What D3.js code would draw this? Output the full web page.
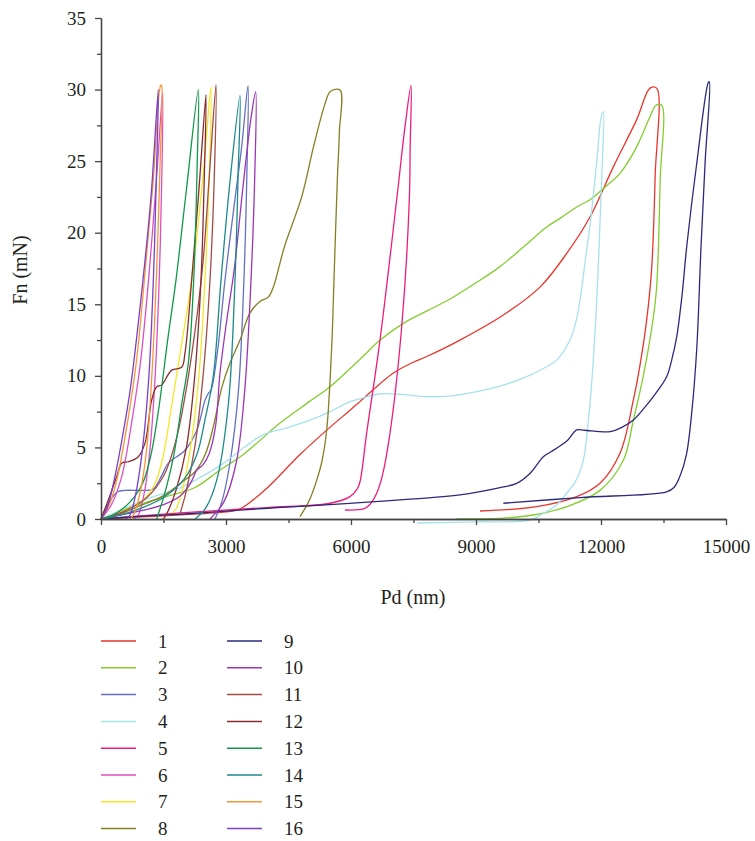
<!DOCTYPE html>
<html><head><meta charset="utf-8">
<script src="https://cdn.jsdelivr.net/npm/d3@7/dist/d3.min.js"></script>
<style>
body{margin:0;background:#fff;}
text{font-family:"Liberation Serif","DejaVu Serif",serif;fill:#231f20;}
</style>
</head><body><svg id="chart" width="755" height="841"></svg>
<script>
// ---- data (Pd in nm, Fn in mN) ----
const xTicks = [0, 3000, 6000, 9000, 12000, 15000];
const yTicks = [0, 5, 10, 15, 20, 25, 30, 35];
const seriesLabels = ["1","2","3","4","5","6","7","8","9","10","11","12","13","14","15","16"];
const seriesColors = ["#e8362c","#84cc2e","#6470c2","#a6e2ee","#ec1c7c","#db50c0","#f5e62a","#847f22",
                      "#2b2a7c","#9b36b5","#a14c46","#8a2c2c","#11994a","#1c8a8c","#f7953a","#7a40c8"];

const curve1 = [[0,0],[1000,0.15],[2000,0.3],[3000,0.5],[3300,0.65],[3500,1.0],[4000,2.2],[4776,4.5],[5336,6.0],[5976,7.6],[6216,8.2],[7016,10.2],[7496,10.95],[7816,11.35],[8616,12.5],[9656,14.25],[10536,16.2],[11176,18.55],[11736,21.1],[12296,24.6],[12856,27.9],[13176,30.1],[13336,30.1],
  [13300,24],[13216,17.5],[13100,14],[12950,11],[12776,8.3],[12456,4.6],[11976,2.5],[11416,1.56],[10456,0.86],[9096,0.56]];
const curve2 = [[0,0],[500,0.6],[1000,1.1],[1600,1.6],[2256,2.2],[2800,3.3],[3456,4.6],[4296,6.7],[5000,8.2],[5496,9.24],[6216,11.16],[6700,12.5],[7256,13.67],[7800,14.5],[8376,15.37],[9000,16.5],[9576,17.63],[10136,19.0],[10696,20.4],[11016,21.0],[11416,21.8],[11736,22.3],[12100,23.2],[12456,24.15],[12856,26.0],[13176,28.1],[13320,28.9],[13456,28.9],
  [13420,23.7],[13330,16],[13200,13],[13016,10],[12776,6.9],[12536,4.1],[11976,2.0],[11176,0.86],[10376,0.28],[9576,0.05],[8536,0]];
const curve3 = [[0,0],[200,1.2],[400,1.9],[576,2.0],[1000,2.0],[1256,2.1],[1450,3.0],[1616,3.9],[2016,4.8],[2300,6.2],[2496,8.3],[2580,8.8],[2640,9.0],[2800,11.8],[2976,16.7],[3200,22],[3376,26],[3528,30.27],
  [3500,24],[3430,16.7],[3300,9],[3100,4],[2900,1.2],[2736,0]];
const curve4 = [[0,0],[300,0.4],[648,0.86],[1200,1.5],[1840,2.1],[2256,2.7],[2896,3.8],[3456,5.05],[3896,5.9],[4500,6.4],[5016,6.9],[5500,7.5],[5976,8.2],[6216,8.4],[6696,8.75],[7200,8.7],[7736,8.55],[8400,8.6],[9016,8.9],[9600,9.3],[10216,9.94],[10600,10.5],[10936,11.1],[11256,12.5],[11400,13.8],[11496,15.3],[11656,18.8],[11736,20.5],[11900,25],[12000,28],[12056,28.45],
  [12020,24],[11940,18],[11816,11.1],[11700,7],[11576,4.1],[11400,2.7],[11176,1.8],[10900,0.9],[10616,0.4],[10296,-0.07],[9000,-0.2],[7584,-0.28]];
const curve5 = [[0,0],[2000,0.45],[4000,0.8],[5500,1.1],[5976,1.56],[6150,2.1],[6216,2.6],[6376,6],[6696,12.5],[7096,22.3],[7300,27.5],[7440,30.3],
  [7420,26],[7400,22.3],[7216,13.4],[6936,6],[6750,3],[6616,1.8],[6450,1.0],[6296,0.7],[5856,0.63]];
const curve6 = [[0,0],[250,1],[500,3],[750,7],[950,11],[1150,17],[1350,24.5],[1480,29.8],
  [1460,24],[1400,17],[1300,10],[1180,5],[1050,2],[900,0.3],[800,0]];
const curve7 = [[0,0],[500,0.5],[1000,1.3],[1300,2.5],[1500,4.5],[1700,8],[1950,12.5],[2176,16.7],[2450,24],[2640,30.2],
  [2600,24],[2496,16.7],[2350,10],[2150,5],[1950,2],[1800,0.7],[1700,0.4]];
const curve8 = [[0,0],[500,0.4],[1000,1.0],[1456,1.56],[2000,2.7],[2256,3.3],[2500,4.5],[2700,6.5],[2900,9.2],[3096,10.9],[3336,12.5],[3576,14.4],[3816,15.2],[4016,15.5],[4136,16.2],[4400,19],[4816,22.5],[5100,26],[5376,29.0],[5500,29.85],[5736,29.97],
  [5720,27],[5672,23.7],[5600,17.5],[5536,12],[5416,6.2],[5300,4],[5176,2.7],[5000,1.3],[4776,0.16]];
const curve9 = [[0,0],[1000,0.2],[2000,0.35],[3000,0.55],[4000,0.75],[5000,0.92],[6216,1.14],[7500,1.4],[8616,1.68],[9576,2.19],[9976,2.49],[10300,3.2],[10616,4.35],[10800,4.7],[11016,5.1],[11200,5.5],[11416,6.22],[11600,6.2],[12216,6.1],[12500,6.4],[12776,6.92],[13050,7.8],[13256,8.55],[13576,9.94],[13696,11.1],[13816,12.7],[13940,15.5],[14056,19.0],[14296,24.8],[14576,30.5],[14600,30.55],
  [14500,25],[14400,19],[14300,12],[14180,7.5],[14050,4.5],[13896,3.0],[13750,2.2],[13576,1.9],[11496,1.5],[9656,1.1]];
const curve10 = [[0,0],[500,0.3],[1000,0.6],[1500,1.0],[1900,1.6],[2150,2.5],[2296,3.4],[2450,3.8],[2600,4.6],[2750,6.5],[2856,10.2],[3000,13.5],[3200,17.5],[3400,23],[3600,28],[3712,29.83],
  [3690,24],[3600,16.7],[3450,9],[3250,4],[2950,1.2],[2616,0]];
const curve11 = [[0,0],[600,0.6],[1100,1.5],[1500,3],[1800,5.5],[2000,8.3],[2250,13],[2450,18],[2600,24],[2760,30.34],
  [2720,24],[2616,16.7],[2450,10],[2250,5],[2050,2],[1900,0.4]];
const curve12 = [[0,0],[176,1.33],[376,2.95],[496,3.9],[656,4.0],[896,4.35],[1056,5.3],[1216,8.3],[1336,9.24],[1456,9.36],[1696,10.4],[1936,10.6],[2016,11.6],[2176,16.7],[2350,23],[2520,29.64],
  [2480,24],[2400,16.7],[2250,10],[2050,5],[1800,2],[1600,0.5],[1496,0]];
const curve13 = [[0,0],[300,0.3],[700,1.2],[1000,2.5],[1200,4.5],[1400,8],[1600,12.5],[1800,16.7],[2050,23],[2336,30.0],
  [2310,25],[2225,16.7],[2100,11],[1952,8.3],[1750,4.5],[1550,2],[1336,0]];
const curve14 = [[0,0],[500,0.3],[1000,0.8],[1500,1.5],[2000,2.8],[2300,4.5],[2500,7],[2696,10],[2880,16.7],[3100,23.7],[3336,29.6],
  [3290,24],[3216,16.7],[3056,8],[2776,2.7],[2500,0.7],[2256,0]];
const curve15 = [[0,0],[200,1],[400,3],[650,7],[850,11],[1050,17],[1250,23.5],[1432,30.3],[1450,30.3],
  [1420,25],[1330,17],[1220,10],[1100,5],[950,2],[800,0.4],[700,0]];
const curve16 = [[0,0],[150,0.8],[300,2.5],[500,5.5],[700,9],[1000,16.5],[1200,22.5],[1375,30.0],
  [1330,24],[1260,17],[1150,10],[1000,5],[850,2],[700,0.3],[600,0]];

const curves = [curve1,curve2,curve3,curve4,curve5,curve6,curve7,curve8,curve9,curve10,curve11,curve12,curve13,curve14,curve15,curve16];

// ---- drawing ----
const FONT = '"Liberation Serif", "DejaVu Serif", serif';
const svg = d3.select("#chart");
const x = d3.scaleLinear().domain([0, 15000]).range([101, 726]);
const y = d3.scaleLinear().domain([0, 35]).range([519, 18]);
const axisColor = "#444";

const line = d3.line().x(d => x(d[0])).y(d => y(d[1])).curve(d3.curveCatmullRom.alpha(0.5));

const plot = svg.append("g");
curves.forEach((c, i) => {
  plot.append("path").attr("d", line(c)).attr("fill", "none")
    .attr("stroke", seriesColors[i]).attr("stroke-width", 1.3).attr("stroke-linejoin", "round");
});

// minor ticks
const xMinor = d3.range(1500, 15000, 3000);
const yMinor = d3.range(2.5, 35, 5);
const gxm = svg.append("g").attr("transform", "translate(0,519)")
  .call(d3.axisBottom(x).tickValues(xMinor).tickSize(4).tickFormat("").tickSizeOuter(0));
const gym = svg.append("g").attr("transform", "translate(101,0)")
  .call(d3.axisLeft(y).tickValues(yMinor).tickSize(4).tickFormat("").tickSizeOuter(0));

const gx = svg.append("g").attr("transform", "translate(0,519)")
  .call(d3.axisBottom(x).tickValues(xTicks).tickSize(6).tickPadding(15).tickSizeOuter(0).tickFormat(d3.format("d")));
const gy = svg.append("g").attr("transform", "translate(101,0)")
  .call(d3.axisLeft(y).tickValues(yTicks).tickSize(6).tickPadding(9).tickSizeOuter(0));

[gxm, gym, gx, gy].forEach(g => {
  g.attr("font-family", FONT);
  g.selectAll("path.domain").attr("stroke", axisColor).attr("stroke-width", 1.3);
  g.selectAll(".tick line").attr("stroke", axisColor).attr("stroke-width", 1.3);
  g.selectAll(".tick text").style("font-family", FONT).style("font-size", "19px").attr("fill", "#231f20");
});

svg.append("text").attr("x", 413).attr("y", 604).attr("text-anchor", "middle")
  .style("font-family", FONT).style("font-size", "20px").text("Pd (nm)");
svg.append("text").attr("transform", "translate(27,270) rotate(-90)").attr("text-anchor", "middle")
  .style("font-family", FONT).style("font-size", "20px").text("Fn (mN)");

// legend
const leg = svg.append("g");
seriesLabels.forEach((lab, i) => {
  const col = Math.floor(i / 8), row = i % 8;
  const lx = col === 0 ? 101 : 227;
  const ly = 641 + row * 26.8;
  leg.append("line").attr("x1", lx).attr("x2", lx + 35).attr("y1", ly).attr("y2", ly)
    .attr("stroke", seriesColors[i]).attr("stroke-width", 1.5);
  leg.append("text").attr("x", lx + 57).attr("y", ly + 6.5)
    .style("font-family", FONT).style("font-size", "19px").text(lab);
});
</script>
</body></html>
